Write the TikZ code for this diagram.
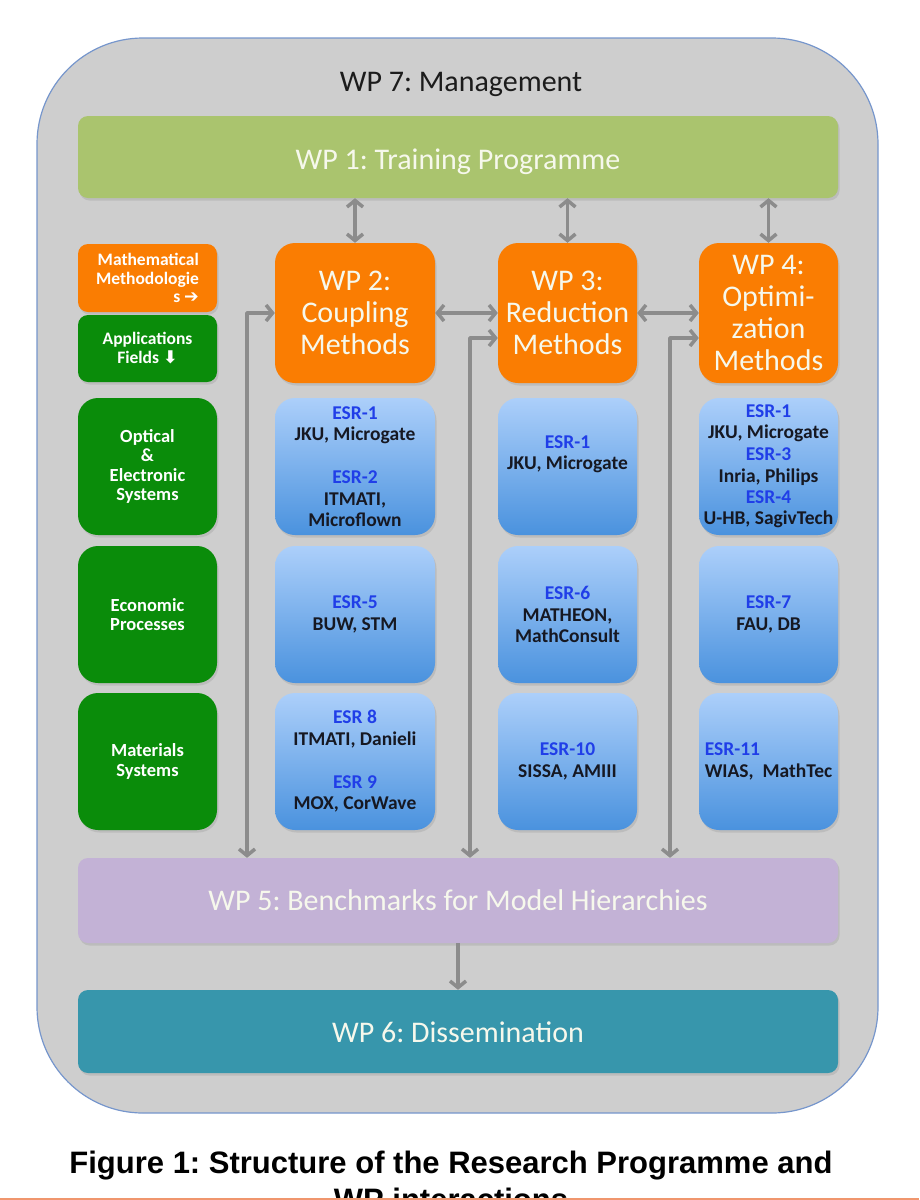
\documentclass[tikz,border=0pt]{standalone}
\usepackage{fontspec}
\setmainfont{Carlito}
\newfontfamily\capfont{Liberation Sans}
\newfontfamily\symfont{DejaVu Sans}
\usetikzlibrary{arrows.meta,shadows,calc}
\frenchspacing

\definecolor{panelgray}{RGB}{206,206,206}
\definecolor{panelline}{RGB}{118,150,204}
\definecolor{wpgreen}{RGB}{170,196,110}
\definecolor{wporange}{RGB}{250,125,2}
\definecolor{appgreen}{RGB}{10,140,10}
\definecolor{esrtop}{RGB}{172,207,250}
\definecolor{esrbot}{RGB}{74,146,222}
\definecolor{esrblue}{RGB}{32,62,232}
\definecolor{esrname}{RGB}{22,24,34}
\definecolor{wplilac}{RGB}{195,178,214}
\definecolor{wpteal}{RGB}{55,150,172}
\definecolor{arrgray}{RGB}{140,140,140}
\definecolor{titletext}{RGB}{28,28,28}
\definecolor{lighttext}{RGB}{246,248,236}
\definecolor{pagerule}{RGB}{240,150,110}

\newcommand\esr[1]{\textcolor{esrblue}{#1}}
% baseline placed a given distance below the bar's centre
\newcommand\lowered[2]{\raisebox{-#1}[0pt][0pt]{#2}}

\begin{document}
\begin{tikzpicture}[x=1pt,y=-1pt,
  softshadow/.style={drop shadow={opacity=0.22,shadow xshift=1.5pt,shadow yshift=-2.5pt}},
  wpbar/.style={softshadow,rounded corners=10pt,minimum width=760pt,inner sep=0pt,
    text=lighttext,font=\fontsize{30}{32}\selectfont},
  wpbox/.style={softshadow,fill=wporange,rounded corners=20pt,minimum width=139pt,
    minimum height=140pt,inner sep=0pt,text=lighttext,align=center,
    font=\fontsize{30}{32}\selectfont},
  esrbox/.style={softshadow,top color=esrtop,bottom color=esrbot,draw=none,
    rounded corners=20pt,minimum width=139pt,minimum height=137pt,inner sep=0pt,
    align=center,text=esrname,font=\bfseries\fontsize{19.5}{21.5}\selectfont},
  appbox/.style={softshadow,fill=appgreen,rounded corners=20pt,minimum width=139pt,
    minimum height=137pt,inner sep=0pt,align=center,text=white,
    font=\bfseries\fontsize{18.5}{19.5}\selectfont},
  conn/.style={draw=arrgray,line width=3.5pt,line join=round,
    >={Straight Barb[length=6.5pt,width=16pt]}}
]
\useasboundingbox (0,0) rectangle (919,1200);

% management panel enclosing everything
\node[draw=panelline,line width=1.2pt,fill=panelgray,rounded corners=106pt,
  minimum width=841pt,minimum height=1075pt,inner sep=0pt] (wp7) at (457.5,575.5) {};
\node[text=titletext,font=\fontsize{30}{32}\selectfont] (wp7title) at (461,84) {WP 7: Management};

% training programme bar
\node[wpbar,fill=wpgreen,minimum height=82pt] (wp1) at (458,157)
  {\lowered{12.5pt}{WP 1: Training Programme}};

% legend boxes
\node[softshadow,fill=wporange,rounded corners=10pt,minimum width=139pt,minimum height=68pt,
  inner sep=0pt,align=right,text=white,font=\bfseries\fontsize{17.5}{18.5}\selectfont]
  (math) at (147.5,278) {Mathematical\\Methodologie\\s {\symfont ➔}};
\node[softshadow,fill=appgreen,rounded corners=10pt,minimum width=139pt,minimum height=67pt,
  inner sep=0pt,align=center,text=white,font=\bfseries\fontsize{17.5}{19}\selectfont]
  (appl) at (147.5,348.5) {Applications\\Fields {\symfont ⬇}};

% application fields
\node[appbox] (optical)   at (147.5,466.5) {Optical\\\&\\Electronic\\Systems};
\node[appbox] (economic)  at (147.5,614.5) {Economic\\Processes};
\node[appbox] (materials) at (147.5,761.5) {Materials\\Systems};

% methodology work packages
\node[wpbox,minimum width=160pt] (wp2) at (355,313)   {WP 2:\\Coupling\\Methods};
\node[wpbox]                     (wp3) at (567.5,313) {WP 3:\\Reduction\\Methods};
\node[wpbox]                     (wp4) at (768.5,313) {WP 4:\\Optimi-\\zation\\Methods};

% early stage researchers, column WP 2
\node[esrbox,minimum width=160pt] (e21) at (355,466.5)
  {\esr{ESR-1}\\JKU, Microgate\\\strut\\\esr{ESR-2}\\ITMATI,\\Microflown};
\node[esrbox,minimum width=160pt] (e22) at (355,614.5)
  {\esr{ESR-5}\\BUW, STM};
\node[esrbox,minimum width=160pt] (e23) at (355,761.5)
  {\esr{ESR 8}\\ITMATI, Danieli\\\strut\\\esr{ESR 9}\\MOX, CorWave};

% column WP 3
\node[esrbox] (e31) at (567.5,466.5) {\esr{ESR-1}\\JKU, Microgate\\\strut};
\node[esrbox] (e32) at (567.5,614.5) {\esr{ESR-6}\\MATHEON,\\MathConsult};
\node[esrbox] (e33) at (567.5,761.5) {\esr{ESR-10}\\SISSA, AMIII};

% column WP 4
\node[esrbox] (e41) at (768.5,466.5)
  {\esr{ESR-1}\\JKU, Microgate\\\esr{ESR-3}\\Inria, Philips\\\esr{ESR-4}\\U-HB, SagivTech};
\node[esrbox] (e42) at (768.5,614.5) {\esr{ESR-7}\\FAU, DB};
\node[esrbox,align=left] (e43) at (768.5,761.5) {\esr{ESR-11}\\WIAS,\ \ MathTec};

% benchmarks and dissemination
\node[wpbar,fill=wplilac,minimum height=85pt] (wp5) at (458,900.5)
  {\lowered{9.5pt}{WP 5: Benchmarks for Model Hierarchies}};
\node[wpbar,fill=wpteal,minimum height=83pt] (wp6) at (458,1031.5)
  {\lowered{10.5pt}{WP 6: Dissemination}};

% interactions with the training programme
\draw[conn,<->] (wp1.south -| wp2.north) -- (wp2.north);
\draw[conn,<->] (wp1.south -| wp3.north) -- (wp3.north);
\draw[conn,<->] (wp1.south -| wp4.north) -- (wp4.north);

% interactions between methodologies
\draw[conn,<->] (wp2.east) -- (wp3.west);
\draw[conn,<->] (wp3.east) -- (wp4.west);

% links between methodologies and benchmarks
\coordinate (f2) at (247,313);
\coordinate (f3) at (470,338);
\coordinate (f4) at (670,338);
\draw[conn,<->] (wp2.west) -- (f2) -- (f2 |- wp5.north);
\draw[conn,<->] (f3 -| wp3.west) -- (f3) -- (f3 |- wp5.north);
\draw[conn,<->] (f4 -| wp4.west) -- (f4) -- (f4 |- wp5.north);

% benchmarks feed dissemination
\draw[conn,->] (wp5.south) -- (wp6.north);

% caption
\node[font=\capfont\bfseries\fontsize{31}{37}\selectfont,align=center,text=black]
  (caption) at (451,1181) {Figure 1: Structure of the Research Programme and\\WP interactions};
\draw[pagerule,line width=2pt] (0,1199) -- (919,1199);
\end{tikzpicture}
\end{document}
